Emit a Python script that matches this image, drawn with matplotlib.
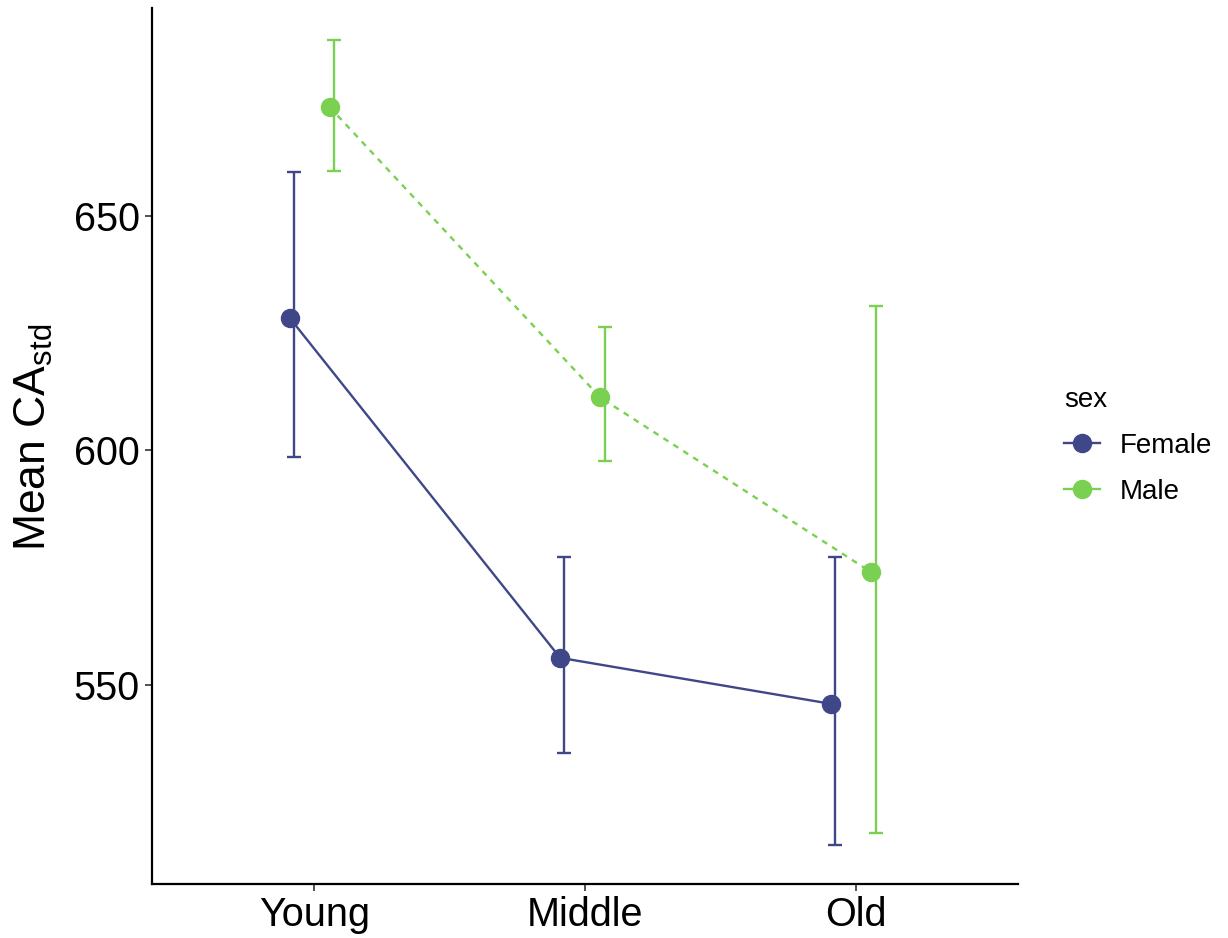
import numpy as np
import matplotlib
matplotlib.use("Agg")
import matplotlib.pyplot as plt
from matplotlib.lines import Line2D

plt.rcParams['font.family'] = ['Liberation Sans', 'DejaVu Sans']

ages = ['Young', 'Middle', 'Old']
sexes = ['Female', 'Male']
means = {
    'Female': [628.3, 555.8, 546.0],
    'Male': [673.2, 611.3, 574.1],
}
lower = {
    'Female': [598.5, 535.5, 515.9],
    'Male': [659.6, 597.7, 518.5],
}
upper = {
    'Female': [659.4, 577.3, 577.3],
    'Male': [687.5, 626.4, 630.8],
}

colors = {'Female': '#404788', 'Male': '#7AD151'}
styles = {'Female': '-', 'Male': (0, (2.5, 2.5))}
point_shift = {'Female': -0.092, 'Male': 0.056}
bar_shift = {'Female': -0.076, 'Male': 0.074}

fig = plt.figure(figsize=(12.28, 9.38), dpi=100)
ax = fig.add_axes([0.1238, 0.0576, 0.829 - 0.1238, 0.9915 - 0.0576])

x = np.arange(1, len(ages) + 1)
for s in sexes:
    m = np.array(means[s])
    lo = m - np.array(lower[s])
    hi = np.array(upper[s]) - m
    ax.errorbar(x + bar_shift[s], m, yerr=[lo, hi], fmt='none',
                ecolor=colors[s], elinewidth=1.7, capsize=5, capthick=1.7,
                zorder=2)
    ax.plot(x + point_shift[s], m, color=colors[s], linestyle=styles[s],
            linewidth=1.7, zorder=3)
    ax.plot(x + point_shift[s], m, 'o', color=colors[s], markersize=13,
            zorder=4)

ax.set_xlim(0.4, 3.6)
ax.set_ylim(507.6, 694.3)
ax.set_xticks(x)
ax.set_xticklabels(ages)
ax.set_yticks([550, 600, 650])
ax.tick_params(axis='both', labelsize=28.5, length=5, width=1.2,
               color='#333333', labelcolor='black', pad=4)
for side in ['top', 'right']:
    ax.spines[side].set_visible(False)
for side in ['left', 'bottom']:
    ax.spines[side].set_linewidth(1.6)
ax.set_ylabel('Mean CA$_{\\mathregular{std}}$', fontsize=32)
ax.yaxis.set_label_coords(-0.112, 0.51)

handles = [Line2D([0], [0], color=colors[s], marker='o', markersize=13,
                  linewidth=1.7) for s in sexes]
leg = fig.legend(handles, sexes, title='sex', loc='center left',
                 bbox_to_anchor=(0.846, 0.525), frameon=False, fontsize=20,
                 title_fontsize=20, handlelength=1.3, handletextpad=0.7,
                 labelspacing=0.72)
leg._legend_box.align = 'left'

fig.savefig('out.png', dpi=100)
